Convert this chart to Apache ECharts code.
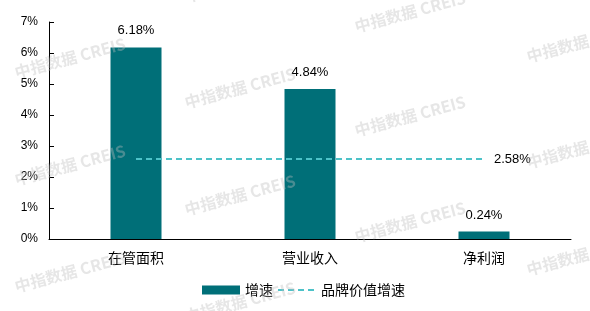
<!DOCTYPE html>
<html>
<head>
<meta charset="utf-8">
<script src="https://cdn.jsdelivr.net/npm/echarts@6/dist/echarts.min.js"></script>
<style>html,body{margin:0;padding:0;background:#fff}#c{width:590px;height:311px}</style>
</head>
<body>
<div id="c"></div>
<script>
var categories = ['在管面积', '营业收入', '净利润'];
var growth = [6.18, 4.84, 0.24];
var brandGrowth = [2.58, 2.58, 2.58];
var yTicks = [0, 1, 2, 3, 4, 5, 6, 7];
var seriesNames = ['增速', '品牌价值增速'];

var chart = echarts.init(document.getElementById('c'), null, {renderer: 'canvas'});

var wmPos = [[70,58],[70,165],[70,272],[240,-18],[240,88],[240,195],[240,302],[410,12],[410,116],[410,222],[582,42],[582,148],[582,255]];
var graphics = wmPos.map(function (p) {
  return {
    type: 'text', x: p[0], y: p[1], rotation: 15 * Math.PI / 180, z: 100, silent: true,
    style: {text: '中指数据 CREIS', fill: 'rgba(190,190,190,0.38)', font: 'bold 16px "Noto Sans CJK SC", sans-serif', align: 'center', verticalAlign: 'middle'}
  };
});

var labelFmt = function (p) { return Number(p.value).toFixed(2) + '%'; };

chart.setOption({
  animation: false,
  backgroundColor: '#fff',
  graphic: graphics,
  grid: {left: 49, right: 19, top: 22, bottom: 72},
  legend: {
    bottom: 9, left: 197, itemWidth: 38, itemHeight: 9, itemGap: 4,
    textStyle: {fontFamily: '"Noto Sans CJK SC", sans-serif', fontSize: 14, color: '#000'},
    data: [{name: seriesNames[0], icon: 'rect'}, {name: seriesNames[1], itemStyle: {opacity: 0}}]
  },
  xAxis: {
    type: 'category', data: categories,
    axisLine: {lineStyle: {color: '#000', width: 1}},
    axisTick: {inside: true, length: 5, lineStyle: {color: '#000'}},
    axisLabel: {margin: 12, fontSize: 14, color: '#000', fontFamily: '"Noto Sans CJK SC", sans-serif'}
  },
  yAxis: {
    type: 'value', min: 0, max: 7, interval: 1,
    splitLine: {show: false},
    axisLine: {show: true, lineStyle: {color: '#000', width: 1}},
    axisTick: {show: true, inside: true, length: 5, lineStyle: {color: '#000'}},
    axisLabel: {margin: 11, fontSize: 12, color: '#000', fontFamily: '"Liberation Sans", Arial, sans-serif',
      formatter: function (v) { return v + '%'; }}
  },
  series: [
    {
      name: seriesNames[0], type: 'bar', data: growth, barWidth: 51,
      itemStyle: {color: '#006F78'},
      label: {show: true, position: 'top', distance: 10, fontSize: 13, color: '#000',
        fontFamily: '"Liberation Sans", Arial, sans-serif', formatter: labelFmt}
    },
    {
      name: seriesNames[1], type: 'line', data: brandGrowth, symbol: 'none', showSymbol: false, z: 3,
      lineStyle: {color: '#4DC2C8', width: 2, type: [6, 4]},
      itemStyle: {color: '#4DC2C8'},
      endLabel: {show: true, distance: 10, fontSize: 13, color: '#000',
        fontFamily: '"Liberation Sans", Arial, sans-serif', formatter: labelFmt}
    }
  ]
});
</script>
</body>
</html>
